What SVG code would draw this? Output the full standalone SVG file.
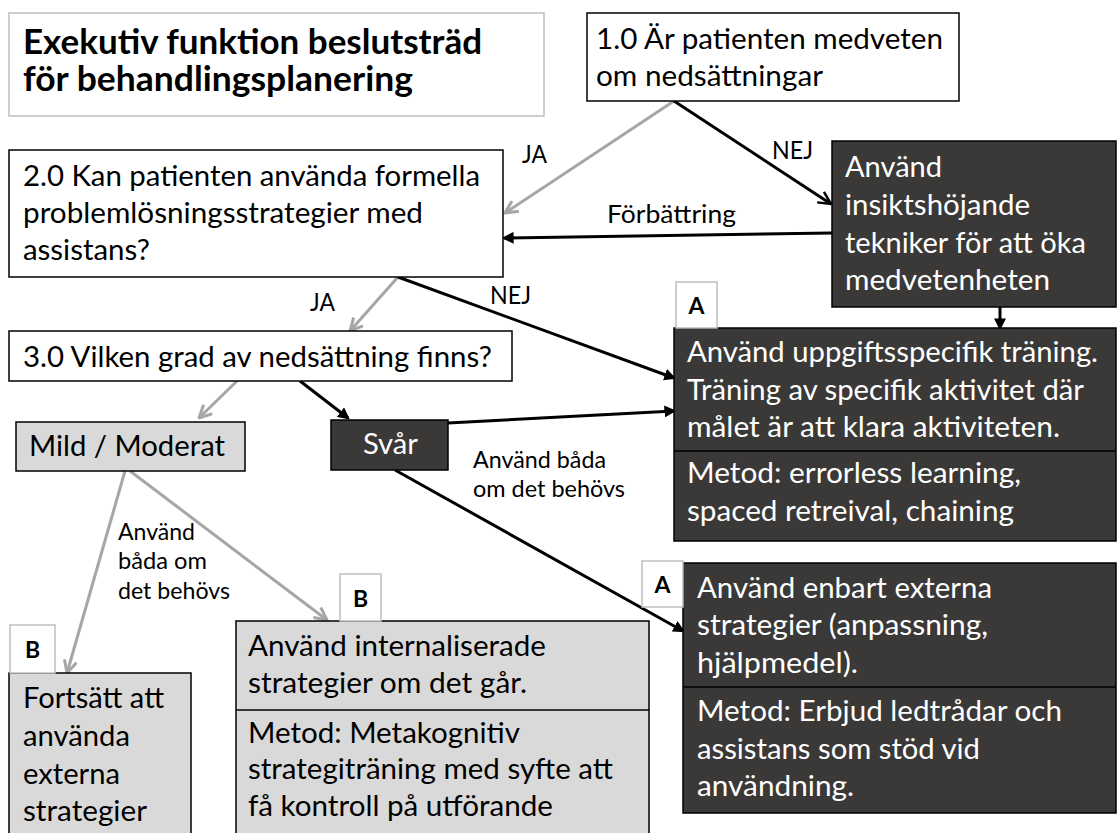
<svg xmlns="http://www.w3.org/2000/svg" width="1119" height="833" viewBox="0 0 1119 833">
  <defs>
    <style>
      text { font-family: Lato, "Liberation Sans", sans-serif; font-size: 28.5px; fill: #000; }
      .w { fill: #fff; }
      .lbl { font-size: 25px; }
      .sm { font-size: 22.5px; }
      .ttl { font-size: 34px; font-weight: 700; }
      .tag { font-size: 23px; font-weight: 700; text-anchor: middle; }
      .box { fill: #fff; stroke: #000; stroke-width: 1.5; }
      .dark { fill: #3a3937; stroke: #000; stroke-width: 1.5; }
      .light { fill: #d9d9d9; stroke: #000; stroke-width: 1.5; }
      .tagbox { fill: #fff; stroke: #bfbfbf; stroke-width: 1.5; }
      .div { stroke: #000; stroke-width: 1.5; }
      .ck { fill: none; stroke: #000; stroke-width: 3; }
      .cg { fill: none; stroke: #a6a6a6; stroke-width: 3; }
    </style>
    <marker id="vee-k" viewBox="0 0 12 12" refX="11" refY="6" markerWidth="15" markerHeight="15" markerUnits="userSpaceOnUse" orient="auto">
      <path d="M1,1 L11,6 L1,11" fill="none" stroke="#000" stroke-width="2"/>
    </marker>
    <marker id="vee-g" viewBox="0 0 12 12" refX="11" refY="6" markerWidth="15" markerHeight="15" markerUnits="userSpaceOnUse" orient="auto">
      <path d="M1,1 L11,6 L1,11" fill="none" stroke="#a6a6a6" stroke-width="2.4"/>
    </marker>
    <marker id="tri-k" viewBox="0 0 10 10" refX="8" refY="5" markerWidth="12" markerHeight="12" markerUnits="userSpaceOnUse" orient="auto">
      <path d="M0,0 L10,5 L0,10 z" fill="#000"/>
    </marker>
  </defs>

  <rect width="1119" height="833" fill="#fff"/>

  <!-- title -->
  <g id="title">
    <rect x="9" y="13" width="535" height="103" fill="#fff" stroke="#bfbfbf" stroke-width="1.5"/>
    <text class="ttl" x="23" y="54" textLength="459" lengthAdjust="spacingAndGlyphs">Exekutiv funktion beslutsträd</text>
    <text class="ttl" x="23" y="91" textLength="390" lengthAdjust="spacingAndGlyphs">för behandlingsplanering</text>
  </g>

  <!-- connectors -->
  <g id="connectors">
    <line class="cg" x1="674" y1="101" x2="505" y2="213" marker-end="url(#vee-g)"/>
    <line class="ck" x1="674" y1="101" x2="831" y2="204" marker-end="url(#vee-k)"/>
    <line class="ck" x1="832" y1="233" x2="504" y2="238" marker-end="url(#tri-k)"/>
    <line class="cg" x1="398" y1="277" x2="350" y2="331" marker-end="url(#vee-g)"/>
    <line class="ck" x1="398" y1="277" x2="674" y2="378" marker-end="url(#tri-k)"/>
    <line class="cg" x1="237" y1="381" x2="199" y2="418" marker-end="url(#vee-g)"/>
    <line class="ck" x1="300" y1="381" x2="348" y2="418" marker-end="url(#tri-k)"/>
    <line class="ck" x1="448" y1="423" x2="674" y2="411" marker-end="url(#tri-k)"/>
    <line class="ck" x1="395" y1="470" x2="683" y2="631" marker-end="url(#tri-k)"/>
    <line class="ck" x1="1000" y1="307" x2="1000" y2="328" marker-end="url(#tri-k)"/>
    <line class="cg" x1="125" y1="471" x2="67" y2="673" marker-end="url(#vee-g)"/>
    <line class="cg" x1="130" y1="471" x2="327" y2="620" marker-end="url(#vee-g)"/>

    <text class="lbl" x="522" y="163" textLength="25" lengthAdjust="spacingAndGlyphs">JA</text>
    <text class="lbl" x="772" y="159" textLength="41" lengthAdjust="spacingAndGlyphs">NEJ</text>
    <text class="lbl" x="607" y="223" textLength="129" lengthAdjust="spacingAndGlyphs">Förbättring</text>
    <text class="lbl" x="310" y="311" textLength="25" lengthAdjust="spacingAndGlyphs">JA</text>
    <text class="lbl" x="490" y="304" textLength="41" lengthAdjust="spacingAndGlyphs">NEJ</text>
    <text class="sm" x="473" y="468" textLength="133" lengthAdjust="spacingAndGlyphs">Använd båda</text>
    <text class="sm" x="473" y="497" textLength="152" lengthAdjust="spacingAndGlyphs">om det behövs</text>
    <text class="sm" x="118" y="540" textLength="77" lengthAdjust="spacingAndGlyphs">Använd</text>
    <text class="sm" x="118" y="569" textLength="89" lengthAdjust="spacingAndGlyphs">båda om</text>
    <text class="sm" x="118" y="599" textLength="112" lengthAdjust="spacingAndGlyphs">det behövs</text>
  </g>

  <!-- 1.0 awareness question -->
  <g id="q1">
    <rect class="box" x="587" y="13" width="372" height="88"/>
    <text x="596" y="49" textLength="347" lengthAdjust="spacingAndGlyphs">1.0 Är patienten medveten</text>
    <text x="596" y="86" textLength="227" lengthAdjust="spacingAndGlyphs">om nedsättningar</text>
  </g>

  <!-- insight techniques -->
  <g id="insight">
    <rect class="dark" x="832" y="141" width="284" height="166"/>
    <text class="w" x="845" y="177" textLength="97" lengthAdjust="spacingAndGlyphs">Använd</text>
    <text class="w" x="845" y="215" textLength="185" lengthAdjust="spacingAndGlyphs">insiktshöjande</text>
    <text class="w" x="845" y="253" textLength="241" lengthAdjust="spacingAndGlyphs">tekniker för att öka</text>
    <text class="w" x="845" y="290" textLength="205" lengthAdjust="spacingAndGlyphs">medvetenheten</text>
  </g>

  <!-- 2.0 problem-solving question -->
  <g id="q2">
    <rect class="box" x="9" y="150" width="494" height="127"/>
    <text x="23" y="186" textLength="457" lengthAdjust="spacingAndGlyphs">2.0 Kan patienten använda formella</text>
    <text x="23" y="223" textLength="400" lengthAdjust="spacingAndGlyphs">problemlösningsstrategier med</text>
    <text x="23" y="260" textLength="127" lengthAdjust="spacingAndGlyphs">assistans?</text>
  </g>

  <!-- 3.0 severity question -->
  <g id="q3">
    <rect class="box" x="9" y="331" width="503" height="50"/>
    <text x="23" y="367" textLength="469" lengthAdjust="spacingAndGlyphs">3.0 Vilken grad av nedsättning finns?</text>
  </g>

  <g id="mild">
    <rect class="light" x="16" y="422" width="229" height="49"/>
    <text x="29" y="456" textLength="196" lengthAdjust="spacingAndGlyphs">Mild / Moderat</text>
  </g>

  <g id="severe">
    <rect class="dark" x="331" y="420" width="117" height="50"/>
    <text class="w" x="363" y="454" textLength="55" lengthAdjust="spacingAndGlyphs">Svår</text>
  </g>

  <!-- A: task-specific training -->
  <g id="taskTraining">
    <rect class="dark" x="674" y="328" width="442" height="213"/>
    <line class="div" x1="674" y1="451" x2="1116" y2="451"/>
    <text class="w" x="687" y="362" textLength="411" lengthAdjust="spacingAndGlyphs">Använd uppgiftsspecifik träning.</text>
    <text class="w" x="687" y="400" textLength="397" lengthAdjust="spacingAndGlyphs">Träning av specifik aktivitet där</text>
    <text class="w" x="687" y="437" textLength="373" lengthAdjust="spacingAndGlyphs">målet är att klara aktiviteten.</text>
    <text class="w" x="687" y="483" textLength="334" lengthAdjust="spacingAndGlyphs">Metod: errorless learning,</text>
    <text class="w" x="687" y="521" textLength="327" lengthAdjust="spacingAndGlyphs">spaced retreival, chaining</text>
    <rect class="tagbox" x="676" y="282" width="41" height="46"/>
    <text class="tag" x="696.5" y="314">A</text>
  </g>

  <!-- A: external strategies only -->
  <g id="externalOnly">
    <rect class="dark" x="683" y="563" width="433" height="250"/>
    <line class="div" x1="683" y1="687" x2="1116" y2="687"/>
    <text class="w" x="697" y="598" textLength="295" lengthAdjust="spacingAndGlyphs">Använd enbart externa</text>
    <text class="w" x="697" y="635" textLength="291" lengthAdjust="spacingAndGlyphs">strategier (anpassning,</text>
    <text class="w" x="697" y="673" textLength="161" lengthAdjust="spacingAndGlyphs">hjälpmedel).</text>
    <text class="w" x="697" y="721" textLength="365" lengthAdjust="spacingAndGlyphs">Metod: Erbjud ledtrådar och</text>
    <text class="w" x="697" y="759" textLength="283" lengthAdjust="spacingAndGlyphs">assistans som stöd vid</text>
    <text class="w" x="697" y="796" textLength="157" lengthAdjust="spacingAndGlyphs">användning.</text>
    <rect class="tagbox" x="642" y="561" width="41" height="46"/>
    <text class="tag" x="662.5" y="593">A</text>
  </g>

  <!-- B: continue external strategies -->
  <g id="continueExternal">
    <rect class="light" x="9" y="673" width="182" height="175"/>
    <text x="23" y="708" textLength="141" lengthAdjust="spacingAndGlyphs">Fortsätt att</text>
    <text x="23" y="746" textLength="107" lengthAdjust="spacingAndGlyphs">använda</text>
    <text x="23" y="784" textLength="97" lengthAdjust="spacingAndGlyphs">externa</text>
    <text x="23" y="821" textLength="124" lengthAdjust="spacingAndGlyphs">strategier</text>
    <rect class="tagbox" x="10" y="625" width="45" height="48"/>
    <text class="tag" x="32.5" y="658">B</text>
  </g>

  <!-- B: internalised strategies -->
  <g id="internalised">
    <rect class="light" x="236" y="621" width="413" height="227"/>
    <line class="div" x1="236" y1="710" x2="649" y2="710"/>
    <text x="248" y="656" textLength="298" lengthAdjust="spacingAndGlyphs">Använd internaliserade</text>
    <text x="248" y="693" textLength="279" lengthAdjust="spacingAndGlyphs">strategier om det går.</text>
    <text x="248" y="743" textLength="272" lengthAdjust="spacingAndGlyphs">Metod: Metakognitiv</text>
    <text x="248" y="779" textLength="365" lengthAdjust="spacingAndGlyphs">strategiträning med syfte att</text>
    <text x="248" y="816" textLength="305" lengthAdjust="spacingAndGlyphs">få kontroll på utförande</text>
    <rect class="tagbox" x="340" y="574" width="41" height="47"/>
    <text class="tag" x="360.5" y="607">B</text>
  </g>
</svg>
